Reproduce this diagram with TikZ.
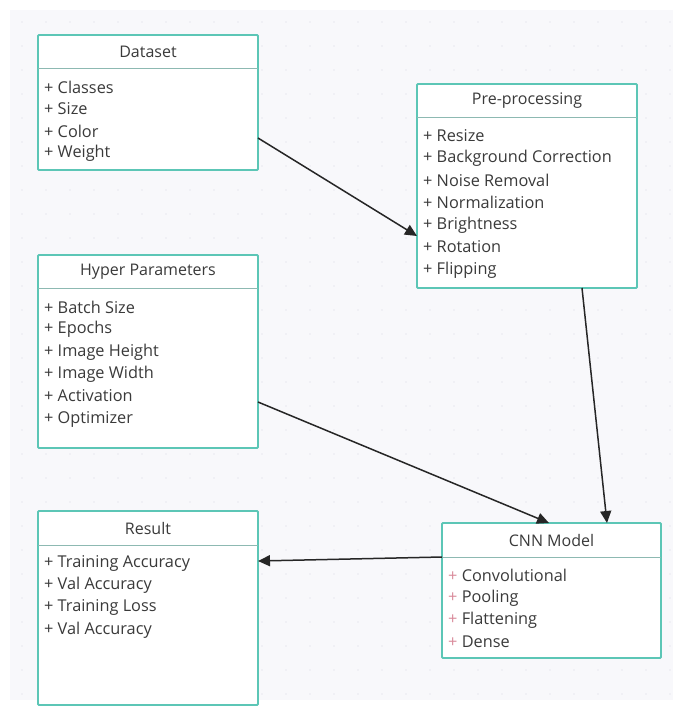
\documentclass[tikz,border=0pt]{standalone}
\usepackage{fontspec}
\setmainfont{Open Sans}
\usetikzlibrary{arrows.meta}
\definecolor{boxline}{HTML}{5CC6B6}
\definecolor{canvas}{HTML}{F8F8FB}
\definecolor{ink}{HTML}{3A3A3A}
\definecolor{dotc}{HTML}{E9E9F0}
\definecolor{pinkplus}{HTML}{D98A9A}
\tikzset{
  classbox/.style={draw=boxline, line width=1.8pt, fill=white, rounded corners=1pt},
  sepline/.style={draw=boxline!70!black!60, line width=1pt},
  title/.style={font=\fontsize{16}{18}\selectfont, text=ink, anchor=center},
  item/.style={font=\fontsize{16.3}{18}\selectfont, text=ink, anchor=west, inner sep=0pt},
  flow/.style={draw=black!85, line width=1.5pt, -{Triangle[length=12pt,width=11pt]}}
}
\newcommand{\umlclass}[7]{% name, x1, y1, x2, y2, headerY, title
  \path[classbox] (#2,#3) rectangle (#4,#5);
  \coordinate (#1-nw) at (#2,#3);
  \coordinate (#1-se) at (#4,#5);
  \draw[sepline] (#2,#6) -- (#4,#6);
  \node[title] (#1-title) at ({(#2+#4)/2},{(#3+#6)/2}) {#7};
}
\begin{document}
\begin{tikzpicture}[x=1pt,y=-1pt]
\useasboundingbox (0,0) rectangle (673,710);
\fill[white] (0,0) rectangle (673,710);
\fill[canvas] (10,10) rectangle (673,700);
% faint dotted grid
\foreach \gx in {22,46,...,670} {
  \foreach \gy in {22,46,...,698} {
    \fill[dotc] (\gx,\gy) circle (0.8);
  }
}

% Dataset
\umlclass{ds}{38}{35}{258}{170}{68}{Dataset}
\node[item] (ds1) at (44,87) {+ Classes};
\node[item] (ds2) at (44,109) {+ Size};
\node[item] (ds3) at (44,131) {+ Color};
\node[item] (ds4) at (44,153) {+ Weight};

% Pre-processing
\umlclass{pp}{417}{84}{637}{288}{117}{Pre-processing}
\node[item] (pp1) at (423,136) {+ Resize};
\node[item] (pp2) at (423,158) {+ Background Correction};
\node[item] (pp3) at (423,180) {+ Noise Removal};
\node[item] (pp4) at (423,202) {+ Normalization};
\node[item] (pp5) at (423,225) {+ Brightness};
\node[item] (pp6) at (423,247) {+ Rotation};
\node[item] (pp7) at (423,270) {+ Flipping};

% Hyper Parameters
\umlclass{hp}{38}{255}{258}{448}{288}{Hyper Parameters}
\node[item] (hp1) at (44,307) {+ Batch Size};
\node[item] (hp2) at (44,329) {+ Epochs};
\node[item] (hp3) at (44,352) {+ Image Height};
\node[item] (hp4) at (44,374) {+ Image Width};
\node[item] (hp5) at (44,396) {+ Activation};
\node[item] (hp6) at (44,419) {+ Optimizer};

% Result
\umlclass{rs}{38}{511}{258}{705}{545}{Result}
\node[item] (rs1) at (44,563) {+ Training Accuracy};
\node[item] (rs2) at (44,585) {+ Val Accuracy};
\node[item] (rs3) at (44,607) {+ Training Loss};
\node[item] (rs4) at (44,630) {+ Val Accuracy};

% CNN Model
\umlclass{cnn}{442}{523}{661}{658}{557}{CNN Model}
\node[item] (cnn1) at (448,575) {\textcolor{pinkplus}{+} Convolutional};
\node[item] (cnn2) at (448,598) {\textcolor{pinkplus}{+} Pooling};
\node[item] (cnn3) at (448,620) {\textcolor{pinkplus}{+} Flattening};
\node[item] (cnn4) at (448,642) {\textcolor{pinkplus}{+} Dense};

% connector end points on the class borders
\coordinate (dsOut) at (258,138);
\coordinate (ppIn) at (417,236);
\coordinate (ppOut) at (582,288);
\coordinate (cnnInA) at (607,523);
\coordinate (hpOut) at (258,402);
\coordinate (cnnInB) at (549,523);
\coordinate (cnnOut) at (442,557);
\coordinate (rsIn) at (258,561);

\draw[flow] (dsOut) -- (ppIn);
\draw[flow] (ppOut) -- (cnnInA);
\draw[flow] (hpOut) -- (cnnInB);
\draw[flow] (cnnOut) -- (rsIn);
\end{tikzpicture}
\end{document}
